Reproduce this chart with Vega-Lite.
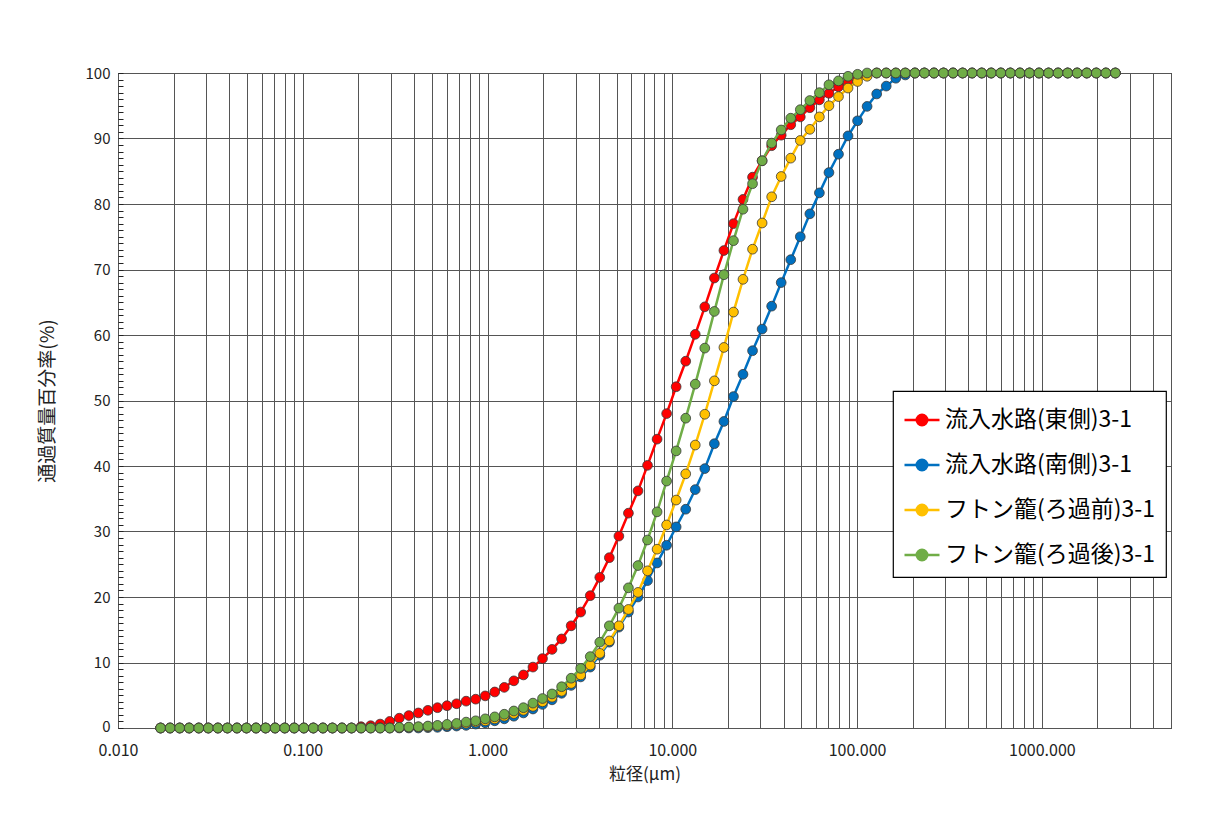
{
  "$schema": "https://vega.github.io/schema/vega-lite/v6.json",
  "width": 1053,
  "height": 655,
  "autosize": "none",
  "padding": {"left": 118, "top": 73, "right": 47, "bottom": 99},
  "background": "white",
  "data": {"values": [
    {"d":0.017,"E":0,"S":0,"P":0,"G":0},
    {"d":0.01915,"E":0,"S":0,"P":0,"G":0},
    {"d":0.02157,"E":0,"S":0,"P":0,"G":0},
    {"d":0.02429,"E":0,"S":0,"P":0,"G":0},
    {"d":0.02736,"E":0,"S":0,"P":0,"G":0},
    {"d":0.03082,"E":0,"S":0,"P":0,"G":0},
    {"d":0.03471,"E":0,"S":0,"P":0,"G":0},
    {"d":0.0391,"E":0,"S":0,"P":0,"G":0},
    {"d":0.04404,"E":0,"S":0,"P":0,"G":0},
    {"d":0.0496,"E":0,"S":0,"P":0,"G":0},
    {"d":0.05587,"E":0,"S":0,"P":0,"G":0},
    {"d":0.06293,"E":0,"S":0,"P":0,"G":0},
    {"d":0.07088,"E":0,"S":0,"P":0,"G":0},
    {"d":0.07984,"E":0,"S":0,"P":0,"G":0},
    {"d":0.08993,"E":0,"S":0,"P":0,"G":0},
    {"d":0.1013,"E":0,"S":0,"P":0,"G":0},
    {"d":0.1141,"E":0,"S":0,"P":0,"G":0},
    {"d":0.1285,"E":0,"S":0,"P":0,"G":0},
    {"d":0.1447,"E":0,"S":0,"P":0,"G":0},
    {"d":0.163,"E":0,"S":0,"P":0,"G":0},
    {"d":0.1836,"E":0,"S":0,"P":0,"G":0},
    {"d":0.2068,"E":0.2,"S":0,"P":0,"G":0},
    {"d":0.233,"E":0.35,"S":0,"P":0,"G":0},
    {"d":0.2624,"E":0.6,"S":0,"P":0,"G":0},
    {"d":0.2956,"E":1.0,"S":0,"P":0,"G":0},
    {"d":0.3329,"E":1.5,"S":0,"P":0.05,"G":0.1},
    {"d":0.375,"E":1.9,"S":0,"P":0.1,"G":0.15},
    {"d":0.4224,"E":2.3,"S":0,"P":0.15,"G":0.2},
    {"d":0.4757,"E":2.7,"S":0.05,"P":0.2,"G":0.3},
    {"d":0.5359,"E":3.1,"S":0.1,"P":0.3,"G":0.4},
    {"d":0.6036,"E":3.4,"S":0.2,"P":0.4,"G":0.55},
    {"d":0.6799,"E":3.7,"S":0.3,"P":0.55,"G":0.7},
    {"d":0.7657,"E":4.1,"S":0.4,"P":0.7,"G":0.9},
    {"d":0.8625,"E":4.4,"S":0.6,"P":0.9,"G":1.1},
    {"d":0.9714,"E":4.9,"S":0.8,"P":1.1,"G":1.4},
    {"d":1.094,"E":5.5,"S":1.1,"P":1.4,"G":1.7},
    {"d":1.232,"E":6.2,"S":1.4,"P":1.8,"G":2.1},
    {"d":1.388,"E":7.2,"S":1.8,"P":2.2,"G":2.6},
    {"d":1.564,"E":8.1,"S":2.3,"P":2.7,"G":3.1},
    {"d":1.761,"E":9.3,"S":2.9,"P":3.3,"G":3.8},
    {"d":1.984,"E":10.6,"S":3.6,"P":4.0,"G":4.5},
    {"d":2.234,"E":12.0,"S":4.3,"P":4.7,"G":5.2},
    {"d":2.517,"E":13.6,"S":5.3,"P":5.6,"G":6.3},
    {"d":2.835,"E":15.6,"S":6.5,"P":6.8,"G":7.6},
    {"d":3.193,"E":17.7,"S":7.8,"P":8.1,"G":9.1},
    {"d":3.596,"E":20.2,"S":9.3,"P":9.6,"G":10.9},
    {"d":4.05,"E":23.0,"S":11.1,"P":11.4,"G":13.1},
    {"d":4.562,"E":26.0,"S":13.1,"P":13.3,"G":15.6},
    {"d":5.139,"E":29.3,"S":15.4,"P":15.6,"G":18.3},
    {"d":5.788,"E":32.8,"S":17.7,"P":18.1,"G":21.4},
    {"d":6.519,"E":36.2,"S":20.0,"P":20.7,"G":24.8},
    {"d":7.343,"E":40.1,"S":22.5,"P":24.0,"G":28.7},
    {"d":8.271,"E":44.1,"S":25.2,"P":27.3,"G":33.0},
    {"d":9.316,"E":48.0,"S":27.9,"P":31.0,"G":37.7},
    {"d":10.49,"E":52.1,"S":30.7,"P":34.8,"G":42.3},
    {"d":11.82,"E":56.0,"S":33.4,"P":38.8,"G":47.3},
    {"d":13.31,"E":60.1,"S":36.4,"P":43.2,"G":52.5},
    {"d":14.99,"E":64.3,"S":39.6,"P":47.9,"G":58.0},
    {"d":16.89,"E":68.7,"S":43.4,"P":53.0,"G":63.6},
    {"d":19.02,"E":72.9,"S":46.8,"P":58.1,"G":69.2},
    {"d":21.43,"E":77.0,"S":50.6,"P":63.5,"G":74.4},
    {"d":24.13,"E":80.7,"S":54.0,"P":68.5,"G":79.2},
    {"d":27.18,"E":84.1,"S":57.6,"P":73.1,"G":83.1},
    {"d":30.62,"E":86.6,"S":60.9,"P":77.1,"G":86.6},
    {"d":34.49,"E":88.9,"S":64.4,"P":81.1,"G":89.3},
    {"d":38.84,"E":90.5,"S":68.0,"P":84.2,"G":91.3},
    {"d":43.75,"E":92.1,"S":71.5,"P":87.0,"G":93.1},
    {"d":49.28,"E":93.3,"S":75.0,"P":89.7,"G":94.4},
    {"d":55.51,"E":94.7,"S":78.5,"P":91.4,"G":95.8},
    {"d":62.52,"E":95.9,"S":81.7,"P":93.3,"G":97.0},
    {"d":70.42,"E":96.9,"S":84.8,"P":95.0,"G":98.2},
    {"d":79.32,"E":97.9,"S":87.6,"P":96.4,"G":98.8},
    {"d":89.34,"E":98.5,"S":90.4,"P":97.7,"G":99.5},
    {"d":100.6,"E":99.2,"S":92.7,"P":98.7,"G":99.8},
    {"d":113.3,"E":99.7,"S":94.9,"P":99.5,"G":100},
    {"d":127.7,"E":100,"S":96.8,"P":100,"G":100},
    {"d":143.8,"E":100,"S":98.0,"P":100,"G":100},
    {"d":162,"E":100,"S":99.2,"P":100,"G":100},
    {"d":182.4,"E":100,"S":99.7,"P":100,"G":100},
    {"d":205.5,"E":100,"S":100,"P":100,"G":100},
    {"d":231.4,"E":100,"S":100,"P":100,"G":100},
    {"d":260.7,"E":100,"S":100,"P":100,"G":100},
    {"d":293.6,"E":100,"S":100,"P":100,"G":100},
    {"d":330.7,"E":100,"S":100,"P":100,"G":100},
    {"d":372.5,"E":100,"S":100,"P":100,"G":100},
    {"d":419.6,"E":100,"S":100,"P":100,"G":100},
    {"d":472.6,"E":100,"S":100,"P":100,"G":100},
    {"d":532.3,"E":100,"S":100,"P":100,"G":100},
    {"d":599.6,"E":100,"S":100,"P":100,"G":100},
    {"d":675.4,"E":100,"S":100,"P":100,"G":100},
    {"d":760.7,"E":100,"S":100,"P":100,"G":100},
    {"d":856.8,"E":100,"S":100,"P":100,"G":100},
    {"d":965.1,"E":100,"S":100,"P":100,"G":100},
    {"d":1087,"E":100,"S":100,"P":100,"G":100},
    {"d":1224,"E":100,"S":100,"P":100,"G":100},
    {"d":1379,"E":100,"S":100,"P":100,"G":100},
    {"d":1553,"E":100,"S":100,"P":100,"G":100},
    {"d":1750,"E":100,"S":100,"P":100,"G":100},
    {"d":1971,"E":100,"S":100,"P":100,"G":100},
    {"d":2220,"E":100,"S":100,"P":100,"G":100},
    {"d":2500,"E":100,"S":100,"P":100,"G":100}
  ]},
  "encoding": {
    "x": {
      "field": "d",
      "type": "quantitative",
      "scale": {"type": "log", "domain": [0.01, 5000], "nice": false},
      "axis": {
        "title": "粒径(μm)",
        "values": [0.01,0.02,0.03,0.04,0.05,0.06,0.07,0.08,0.09,0.1,0.2,0.3,0.4,0.5,0.6,0.7,0.8,0.9,1,2,3,4,5,6,7,8,9,10,20,30,40,50,60,70,80,90,100,200,300,400,500,600,700,800,900,1000,2000,3000,4000,5000],
        "format": ".3f",
        "labelExpr": "indexof(['0.010','0.100','1.000','10.000','100.000','1000.000'], datum.label) >= 0 ? datum.label : ''",
        "labelOverlap": false,
        "labelFlush": false,
        "labelFontSize": 16,
        "labelColor": "#222222",
        "labelPadding": 14,
        "ticks": false,
        "domain": false,
        "grid": true,
        "gridColor": "#555555",
        "gridWidth": 1,
        "titleFontSize": 17,
        "titleFontWeight": "normal",
        "titleColor": "#222222",
        "titleY": 46,
        "titleBaseline": "middle"
      }
    },
    "y": {
      "type": "quantitative",
      "scale": {"domain": [0, 100], "nice": false},
      "axis": {
        "title": "通過質量百分率(%)",
        "values": [0,1,2,3,4,5,6,7,8,9,10,11,12,13,14,15,16,17,18,19,20,21,22,23,24,25,26,27,28,29,30,31,32,33,34,35,36,37,38,39,40,41,42,43,44,45,46,47,48,49,50,51,52,53,54,55,56,57,58,59,60,61,62,63,64,65,66,67,68,69,70,71,72,73,74,75,76,77,78,79,80,81,82,83,84,85,86,87,88,89,90,91,92,93,94,95,96,97,98,99,100],
        "labelExpr": "datum.value % 10 === 0 ? datum.label : ''",
        "labelOverlap": false,
        "labelFlush": false,
        "labelFontSize": 15,
        "labelColor": "#222222",
        "labelPadding": 13,
        "labelOffset": {"condition": {"test": "datum.value === 0", "value": -2}, "value": 0},
        "ticks": true,
        "tickSize": -5,
        "tickColor": "#222222",
        "tickWidth": 1,
        "domain": false,
        "grid": true,
        "gridColor": "#555555",
        "gridWidth": 1,
        "gridOpacity": {"condition": {"test": "datum.value % 10 === 0", "value": 1}, "value": 0},
        "titleFontSize": 19,
        "titleFontWeight": "normal",
        "titleColor": "#222222",
        "titleX": -71,
        "titleAngle": -90,
        "titleAlign": "center",
        "titleBaseline": "middle"
      }
    }
  },
  "layer": [
    {
      "mark": {"type": "line", "strokeWidth": 2.5, "point": {"filled": true, "size": 95, "stroke": "#3a3a3a", "strokeWidth": 0.8, "opacity": 1}},
      "encoding": {
        "y": {"field": "E"},
        "color": {
          "datum": "流入水路(東側)3-1",
          "type": "nominal",
          "scale": {
            "domain": ["流入水路(東側)3-1", "流入水路(南側)3-1", "フトン籠(ろ過前)3-1", "フトン籠(ろ過後)3-1"],
            "range": ["#FF0000", "#0070C0", "#FFC000", "#70AD47"]
          },
          "legend": {
            "title": null,
            "orient": "none",
            "legendX": 775,
            "legendY": 318,
            "strokeColor": "#000000",
            "fillColor": "#FFFFFF",
            "padding": 10,
            "labelFontSize": 23,
            "labelColor": "#000000",
            "labelLimit": 400,
            "labelOffset": 4,
            "symbolType": "M-1,0L1,0M-0.3,0A0.3,0.3,0,1,1,0.3,0A0.3,0.3,0,1,1,-0.3,0Z",
            "symbolSize": 1225,
            "symbolStrokeWidth": 2.5,
            "rowPadding": 14,
            "encode": {
              "legend": {"update": {"strokeWidth": {"value": 1.2}}},
              "symbols": {"update": {"fill": {"scale": "color", "field": "value"}, "opacity": {"value": 1}}}
            }
          }
        }
      }
    },
    {
      "mark": {"type": "line", "strokeWidth": 2.5, "point": {"filled": true, "size": 95, "stroke": "#3a3a3a", "strokeWidth": 0.8, "opacity": 1}},
      "encoding": {
        "y": {"field": "S"},
        "color": {"datum": "流入水路(南側)3-1", "type": "nominal"}
      }
    },
    {
      "mark": {"type": "line", "strokeWidth": 2.5, "point": {"filled": true, "size": 95, "stroke": "#3a3a3a", "strokeWidth": 0.8, "opacity": 1}},
      "encoding": {
        "y": {"field": "P"},
        "color": {"datum": "フトン籠(ろ過前)3-1", "type": "nominal"}
      }
    },
    {
      "mark": {"type": "line", "strokeWidth": 2.5, "point": {"filled": true, "size": 95, "stroke": "#3a3a3a", "strokeWidth": 0.8, "opacity": 1}},
      "encoding": {
        "y": {"field": "G"},
        "color": {"datum": "フトン籠(ろ過後)3-1", "type": "nominal"}
      }
    }
  ],
  "config": {
    "font": "Noto Sans CJK JP",
    "view": {"stroke": "#000000", "strokeWidth": 1}
  }
}
